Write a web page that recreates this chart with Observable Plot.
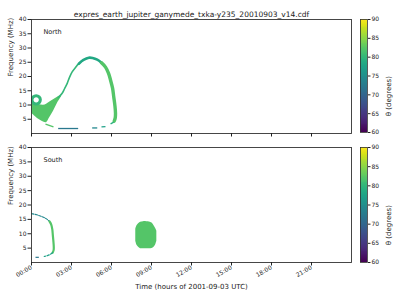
<!DOCTYPE html>
<html>
<head>
<meta charset="utf-8">
<script src="https://cdn.jsdelivr.net/npm/d3@7"></script>
<script src="https://cdn.jsdelivr.net/npm/@observablehq/plot@0.6"></script>
<style>
  html, body { margin: 0; padding: 0; background: #fff; }
  #root { position: relative; width: 400px; height: 300px; background: #fff; overflow: hidden; }
  #root svg { position: absolute; overflow: visible; }
</style>
</head>
<body>
<div id="root"></div>
<script>
// ---------- text ----------
const titleText = "expres_earth_jupiter_ganymede_txka-y235_20010903_v14.cdf";
const yLabel = "Frequency (MHz)";
const xLabel = "Time (hours of 2001-09-03 UTC)";
const cbLabel = "θ (degrees)";
const hourTicks = [0, 3, 6, 9, 12, 15, 18, 21];
const freqTicks = [5, 10, 15, 20, 25, 30, 35, 40];
const thetaTicks = [60, 65, 70, 75, 80, 85, 90];
const thetaDomain = [60, 90];

// ---------- North hemisphere ----------
// filled wedge near 00:00-02:15 (time, low freq, high freq)
const nWedgeT  = [0, 0.3, 0.6, 0.9, 1.13, 1.35, 1.65, 1.95, 2.25];
const nWedgeLo = [7.1, 5.9, 4.8, 4.0, 3.8, 5.4, 7.8, 10.6, 12.9];
const nWedgeHi = [10.3, 10.3, 10.1, 9.9, 10.3, 11.0, 11.8, 12.7, 13.4];
const nWedgeTheta = 82;
// ring around the small hole
const nRingT = [0.35, 0.57, 0.665, 0.57, 0.35, 0.13, 0.035, 0.13];
const nRingF = [13.27, 12.84, 11.8, 10.76, 10.33, 10.76, 11.8, 12.84];
const nRingTheta = 80;
// big arc: rising, top, falling
const nRiseT = [2.0, 2.3, 2.48, 2.68, 2.85, 3.05, 3.3, 3.55, 3.9];
const nRiseF = [12.6, 14.1, 15.7, 17.6, 19.7, 21.6, 23.2, 24.5, 25.8];
const nRiseTheta = 80;
const nTopT = [3.55, 3.9, 4.3, 4.58, 4.93, 5.25];
const nTopF = [24.5, 25.8, 26.6, 26.5, 25.9, 24.8];
const nTopTheta = 78;
const nFallT = [5.25, 5.55, 5.78, 5.93, 6.08, 6.17, 6.26, 6.3, 6.28, 6.2];
const nFallF = [24.8, 23.3, 21.1, 18.7, 15.9, 12.8, 9.6, 7.1, 5.5, 4.3];
const nFallTheta = 82;
// low-frequency dashes (t1, f1, t2, f2, theta)
const nDashT1 = [1.05, 2.0, 4.55, 5.25, 5.93];
const nDashF1 = [3.3, 1.75, 1.95, 2.3, 3.4];
const nDashT2 = [1.65, 3.5, 4.93, 5.55, 6.17];
const nDashF2 = [2.3, 1.75, 1.95, 2.4, 4.0];
const nDashTheta = [82, 72, 74, 77, 79];

// ---------- South hemisphere ----------
const sTopT = [0, 0.4, 0.75, 1.0, 1.2, 1.35];
const sTopF = [17.0, 16.6, 16.0, 15.5, 14.9, 14.3];
const sTopTheta = 74;
const sMidT = [1.35, 1.48, 1.56, 1.6, 1.64, 1.67, 1.66, 1.58];
const sMidF = [14.3, 13.2, 11.5, 9.5, 7.5, 5.5, 4.3, 3.4];
const sMidTheta = 82;
const sLowT = [1.58, 1.4, 1.2, 0.95];
const sLowF = [3.4, 2.8, 2.4, 2.1];
const sLowTheta = 77;
const sDashT1 = [0.3], sDashF1 = [1.8], sDashT2 = [0.55], sDashF2 = [1.8], sDashTheta = [72];
// blob near 09:00 (time, low freq, high freq)
const sBlobT  = [7.82, 7.91, 8.03, 8.18, 8.4, 8.63, 8.85, 9.04, 9.19, 9.3, 9.4];
const sBlobLo = [7.4, 6.0, 5.3, 4.8, 4.8, 4.8, 4.8, 4.9, 5.3, 6.0, 7.4];
const sBlobHi = [11.6, 12.8, 13.5, 14.0, 14.2, 14.2, 14.1, 13.7, 12.8, 11.9, 10.9];
const sBlobTheta = 82;

// ---------- helpers ----------
const pts = (T, F, theta) => T.map((t, i) => ({t, f: F[i], theta}));
const bands = (T, L, H, theta) => T.map((t, i) => ({t, lo: L[i], hi: H[i], theta}));
const segs = (T1, F1, T2, F2, TH) => T1.map((t, i) => ({t1: t, f1: F1[i], t2: T2[i], f2: F2[i], theta: TH[i]}));

const FONT = "DejaVu Sans";
const colorScale = {type: "linear", scheme: "viridis", domain: thetaDomain};
const fmtHour = h => String(h).padStart(2, "0") + ":00";

function panel({top, bottom, label, marks}) {
  return Plot.plot({
    width: 356,
    height: bottom ? 172 : 140,
    marginLeft: 31, marginRight: 5, marginTop: 19, marginBottom: bottom ? 38 : 7,
    style: {fontFamily: FONT, fontSize: "6px", color: "#222", background: "transparent"},
    x: {domain: [0, 24]},
    y: {domain: [0, 40]},
    color: colorScale,
    marks: [
      ...marks,
      Plot.frame({stroke: "#333", strokeWidth: 0.9}),
      Plot.axisY({ticks: freqTicks, tickSize: 3.5, tickPadding: 1.5, label: null}),
      bottom
        ? Plot.axisX({ticks: hourTicks, tickFormat: fmtHour, tickRotate: -30, tickSize: 3.5, tickPadding: 1, label: null})
        : Plot.axisX({ticks: hourTicks, tickFormat: () => "", tickSize: 3.5, label: null}),
      Plot.text([yLabel], {frameAnchor: "left", rotate: -90, dx: -21, fontSize: 7}),
      Plot.text([label], {frameAnchor: "top-left", dx: 12, dy: 10, textAnchor: "start", fontSize: 6.5}),
      ...(top ? [Plot.text([titleText], {frameAnchor: "top", dy: -8, fontSize: 7.5})] : []),
      ...(bottom ? [Plot.text([xLabel], {frameAnchor: "bottom", dy: 26, fontSize: 7})] : [])
    ]
  });
}

function colorbar(bottom) {
  const step = 0.25;
  const ramp = d3.range(thetaDomain[0], thetaDomain[1], step);
  return Plot.plot({
    width: 44,
    height: bottom ? 172 : 140,
    marginLeft: 4, marginRight: 33, marginTop: 19, marginBottom: bottom ? 38 : 8,
    style: {fontFamily: FONT, fontSize: "6px", color: "#222", background: "transparent"},
    x: {domain: [0, 1], axis: null},
    y: {domain: thetaDomain},
    color: colorScale,
    marks: [
      Plot.rect(ramp, {x1: 0, x2: 1, y1: d => d, y2: d => d + step * 1.5, fill: d => d, shapeRendering: "crispEdges"}),
      Plot.frame({stroke: "#333", strokeWidth: 0.8}),
      Plot.axisY({anchor: "right", ticks: thetaTicks, tickSize: 2.5, tickPadding: 1.5, label: null}),
      Plot.text([cbLabel], {frameAnchor: "right", rotate: -90, dx: 21, fontSize: 7})
    ]
  });
}

const northMarks = [
  Plot.areaY(bands(nWedgeT, nWedgeLo, nWedgeHi, nWedgeTheta), {x: "t", y1: "lo", y2: "hi", fill: "theta", curve: "catmull-rom", clip: true}),
  Plot.line(pts(nRingT, nRingF, nRingTheta), {x: "t", y: "f", stroke: "theta", strokeWidth: 3, curve: "catmull-rom-closed", clip: true}),
  Plot.line(pts(nRiseT, nRiseF, nRiseTheta), {x: "t", y: "f", stroke: "theta", strokeWidth: 1.6, curve: "catmull-rom"}),
  Plot.line(pts(nTopT, nTopF, nTopTheta), {x: "t", y: "f", stroke: "theta", strokeWidth: 2.6, curve: "catmull-rom"}),
  Plot.line(pts(nFallT, nFallF, nFallTheta), {x: "t", y: "f", stroke: "theta", strokeWidth: 3.4, curve: "catmull-rom"}),
  Plot.link(segs(nDashT1, nDashF1, nDashT2, nDashF2, nDashTheta), {x1: "t1", y1: "f1", x2: "t2", y2: "f2", stroke: "theta", strokeWidth: 1.3})
];

const southMarks = [
  Plot.line(pts(sTopT, sTopF, sTopTheta), {x: "t", y: "f", stroke: "theta", strokeWidth: 1.1, strokeDasharray: "2.5,1.2", curve: "catmull-rom", clip: true}),
  Plot.line(pts(sMidT, sMidF, sMidTheta), {x: "t", y: "f", stroke: "theta", strokeWidth: 2.2, curve: "catmull-rom"}),
  Plot.line(pts(sLowT, sLowF, sLowTheta), {x: "t", y: "f", stroke: "theta", strokeWidth: 1.2, strokeDasharray: "2.5,1.5", curve: "catmull-rom"}),
  Plot.link(segs(sDashT1, sDashF1, sDashT2, sDashF2, sDashTheta), {x1: "t1", y1: "f1", x2: "t2", y2: "f2", stroke: "theta", strokeWidth: 1.2}),
  Plot.areaY(bands(sBlobT, sBlobLo, sBlobHi, sBlobTheta), {x: "t", y1: "lo", y2: "hi", fill: "theta", curve: "catmull-rom"})
];

const root = document.getElementById("root");
const place = (el, left, top) => { el.style.left = left + "px"; el.style.top = top + "px"; root.appendChild(el); };

place(panel({top: true, bottom: false, label: "North", marks: northMarks}), 0, 0);
place(colorbar(false), 356, 0);
place(panel({top: false, bottom: true, label: "South", marks: southMarks}), 0, 128);
place(colorbar(true), 356, 128);
</script>
</body>
</html>
